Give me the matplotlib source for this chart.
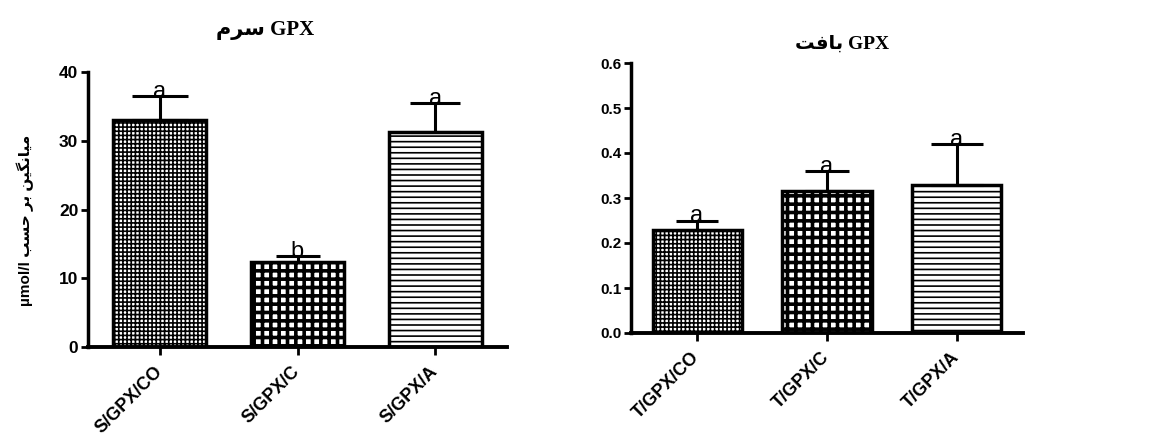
import numpy as np
import matplotlib
matplotlib.use("Agg")
import matplotlib.pyplot as plt

# serum panel
serum_labels = ["S/GPX/CO", "S/GPX/C", "S/GPX/A"]
serum_means = [33.0, 12.3, 31.3]
serum_err = [3.5, 0.9, 4.2]
serum_letters = ["a", "b", "a"]

# tissue panel
tissue_labels = ["T/GPX/CO", "T/GPX/C", "T/GPX/A"]
tissue_means = [0.23, 0.315, 0.33]
tissue_err = [0.02, 0.045, 0.09]
tissue_letters = ["a", "a", "a"]

# Arabic-script text written in visual order with presentation forms
serum_title = "\uFEE1\uFEAE\uFEB3 GPX"            # سرم GPX
tissue_title = "\uFE96\uFED3\uFE8E\uFE91 GPX"     # بافت GPX
ylabel_text = ("µmol/l "
               "\uFE90\uFEB4\uFEA3 "                               # حسب
               "\uFEAE\uFE91 "                                     # بر
               "\uFEE6\uFEF4\uFB95\uFEE7\uFE8E\uFEF4\uFEE3")       # میانگین

hatches = ["++++", "++", "---"]
hatch_lw = [1.2, 2.6, 1.2]

plt.rcParams["font.family"] = ["Liberation Sans", "DejaVu Sans"]

fig = plt.figure(figsize=(11.56, 4.46), dpi=100)
W, H = 1156, 446


def make_axes(px_left, px_right, px_bottom, px_top):
    return fig.add_axes([px_left / W, 1 - px_bottom / H,
                         (px_right - px_left) / W, (px_bottom - px_top) / H])


def draw_panel(ax, labels, means, errs, letters, ylim, yticks, ytfmt,
               xlim, width, capsizes, ytick_size):
    x = np.arange(len(labels))
    for i in range(len(labels)):
        b = ax.bar(x[i], means[i], width=width, color="white",
                   edgecolor="black", linewidth=2.5, hatch=hatches[i], zorder=2)
        for p in b:
            p.set_hatch_linewidth(hatch_lw[i])
        ax.errorbar(x[i], means[i], yerr=[[0], [errs[i]]], fmt="none",
                    ecolor="black", elinewidth=2.2, capsize=capsizes[i],
                    capthick=2.2, zorder=3)
        ax.annotate(letters[i], (x[i], means[i] + errs[i]), xytext=(0, -5),
                    textcoords="offset points", ha="center", va="bottom",
                    fontsize=17, zorder=4)
    ax.set_xlim(*xlim)
    ax.set_ylim(*ylim)
    ax.set_yticks(yticks)
    ax.set_yticklabels([ytfmt.format(v) for v in yticks],
                       fontsize=ytick_size, fontweight="bold")
    ax.set_xticks(x)
    ax.set_xticklabels(labels, rotation=45, ha="right", va="center",
                       rotation_mode="anchor", fontsize=13, fontweight="bold")
    for s in ["top", "right"]:
        ax.spines[s].set_visible(False)
    ax.spines["left"].set_linewidth(2.5)
    ax.spines["bottom"].set_linewidth(2.8)
    ax.tick_params(axis="y", width=2, length=5, pad=2)
    ax.tick_params(axis="x", width=2, length=6, pad=10)


ax1 = make_axes(88, 507, 347, 72)
draw_panel(ax1, serum_labels, serum_means, serum_err, serum_letters,
           (0, 40), [0, 10, 20, 30, 40], "{:.0f}", (-0.52, 2.52), 0.67,
           [20, 16, 18], 12.5)

ax2 = make_axes(631, 1023, 333, 63)
draw_panel(ax2, tissue_labels, tissue_means, tissue_err, tissue_letters,
           (0, 0.6), [0.0, 0.1, 0.2, 0.3, 0.4, 0.5, 0.6], "{:.1f}",
           (-0.508, 2.508), 0.685, [15, 16, 19], 11)

fig.text(265 / W, 1 - 30 / H, serum_title, ha="center", va="center",
         fontsize=15, fontweight="bold",
         family=["Liberation Serif", "DejaVu Sans"])
fig.text(842 / W, 1 - 44 / H, tissue_title, ha="center", va="center",
         fontsize=14, fontweight="bold",
         family=["Liberation Serif", "DejaVu Sans"])
fig.text(25 / W, 1 - 220 / H, ylabel_text, rotation=90, ha="center",
         va="center", fontsize=11, fontweight="bold")

fig.savefig("out.png", dpi=100)
